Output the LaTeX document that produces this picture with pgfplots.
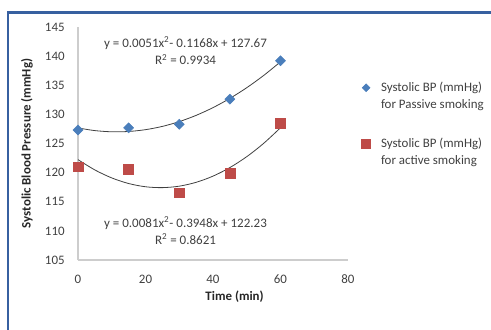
\documentclass[border=0pt]{standalone}
\usepackage{fontspec}
\setmainfont{Carlito}
\usepackage{pgfplots}
\pgfplotsset{compat=1.18}
\definecolor{pblue}{RGB}{74,126,187}
\definecolor{pred}{RGB}{190,75,72}
\definecolor{frameblue}{RGB}{55,96,160}
\definecolor{axgray}{RGB}{205,205,205}
\definecolor{txt}{RGB}{64,64,64}
\pgfplotsset{
  ldiam/.style={legend image code/.code={\draw[##1,mark size=2.1pt] plot coordinates {(0cm,6.5pt)}; \path (9pt,6.5pt);}},
  lsq/.style={legend image code/.code={\draw[##1,mark size=3.3pt] plot coordinates {(0cm,6.5pt)}; \path (9pt,6.5pt);}},
}
\begin{document}
\begin{tikzpicture}
\useasboundingbox (-58.5pt,-51.75pt) rectangle (309.75pt,195pt);
\begin{axis}[
  at={(0,0)}, anchor=south west,
  scale only axis, width=202.5pt, height=174.75pt,
  xmin=0, xmax=80, ymin=105, ymax=145,
  enlargelimits=false,
  xtick={0,20,...,80}, ytick={105,110,...,145},
  axis x line*=bottom, axis y line*=left,
  axis line style={axgray, line width=1.1pt},
  major tick length=0pt,
  tick label style={font=\fontsize{9.7}{11}\selectfont, text=txt},
  yticklabel style={xshift=-6.5pt},
  xticklabel style={yshift=-7.5pt},
  /pgf/number format/assume math mode=true,
  xlabel={\textbf{Time (min)}},
  ylabel={\textbf{Systolic Blood Pressure (mmHg)}},
  label style={font=\fontsize{9.7}{11}\selectfont, text=black!85},
  xlabel style={at={(axis description cs:0.58,-0.159)}, anchor=center},
  ylabel style={at={(axis description cs:-0.189,0.5)}, anchor=center},
  clip=false,
  legend style={at={(1.035,0.582)}, anchor=west, draw=none, fill=none,
    font=\fontsize{9.7}{12.4}\selectfont, text=txt, row sep=17pt,
    cells={anchor=west, align=left, font=\fontsize{9.7}{12.4}\selectfont}},
]
\addplot[smooth, line width=0.6pt, black!75, forget plot] coordinates {
(0,127.67)(5,127.2135)(10,127.012)(15,127.0655)(20,127.374)(25,127.9375)(30,128.756)
(35,129.8295)(40,131.158)(45,132.7415)(50,134.58)(55,136.6735)(60,139.022)};
\addplot[smooth, line width=0.6pt, black!75, forget plot] coordinates {
(0,122.23)(5,120.4585)(10,119.092)(15,118.1305)(20,117.574)(25,117.4225)(30,117.676)
(35,118.3345)(40,119.398)(45,120.8665)(50,122.74)(55,125.0185)(60,127.702)};
\addplot[only marks, mark=square*, mark size=2.65pt, color=pblue,
  mark options={rotate=45, fill=pblue, draw=pblue}, ldiam] coordinates {
(0,127.3)(15,127.7)(30,128.3)(45,132.6)(60,139.2)};
\addlegendentry{Systolic BP (mmHg)\\for Passive smoking}
\addplot[only marks, mark=square*, mark size=3.7pt, color=pred,
  mark options={fill=pred, draw=pred}, lsq] coordinates {
(0,121.0)(15,120.6)(30,116.55)(45,119.9)(60,128.5)};
\addlegendentry{Systolic BP (mmHg)\\for active smoking}
\node[align=center, font=\fontsize{9.75}{13}\selectfont, text=txt] at (axis cs:31.85,140.9)
  {y = 0.0051x\textsuperscript{2}- 0.1168x + 127.67\\R\textsuperscript{2} = 0.9934};
\node[align=center, font=\fontsize{9.75}{13}\selectfont, text=txt] at (axis cs:31.85,110.05)
  {y = 0.0081x\textsuperscript{2}- 0.3948x + 122.23\\R\textsuperscript{2} = 0.8621};
\end{axis}
\draw[frameblue, line width=1.9pt] (-52.5pt,-80pt) |- (340pt,185.6pt);
\end{tikzpicture}
\end{document}
